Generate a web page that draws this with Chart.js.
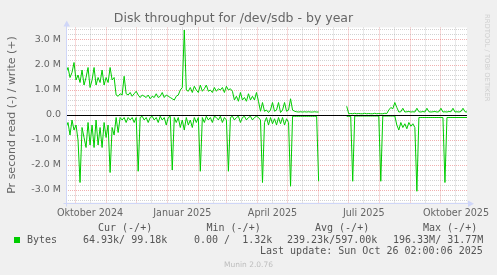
<!DOCTYPE html>
<html><head><meta charset="utf-8">
<script src="https://cdn.jsdelivr.net/npm/chart.js@4"></script>
<style>
html,body{margin:0;padding:0;background:#f0f0f0;}
#wrap{position:relative;width:497px;height:275px;overflow:hidden;background:#f0f0f0;}
canvas{position:absolute;left:0;top:0;}
.t{position:absolute;white-space:pre;font-family:"DejaVu Sans Mono",monospace;font-size:10px;line-height:12px;color:#555;}
#sq{position:absolute;left:14px;top:236.5px;width:6px;height:6px;background:#00cc00;}
#munin{position:absolute;left:0;width:497px;top:260px;text-align:center;font-family:"DejaVu Sans",sans-serif;font-size:7.5px;line-height:9px;color:#bdbdbd;}
#wm{position:absolute;left:482.5px;top:14px;writing-mode:vertical-rl;font-family:"DejaVu Sans",sans-serif;font-size:6.8px;line-height:7px;color:#cfcfcf;white-space:pre;}
</style></head><body>
<div id="wrap">
<canvas id="c" width="497" height="275"></canvas>
<div id="wm">RRDTOOL / TOBI OETIKER</div>
<div id="legend"></div>
<div id="munin">Munin 2.0.76</div>
</div>
<script>
// ---- data (values in M bytes/s, one value every 2 days from 22 Sep 2024) ----
const startUTC = Date.UTC(2024, 8, 22);
const stepDays = 2;
const writeMB = [
 1.7,1.9,1.5,1.7,2.1,1.4,1.6,1.3,1.8,1.2,
 1.5,1.9,1.1,1.4,1.9,1.2,1.5,1.3,1.8,1.2,
 1.5,1.3,1.9,1.4,1.5,
 0.8,0.75,0.85,0.8,1.55,0.85,0.8,0.9,0.75,0.85,
 0.95,0.8,0.7,0.8,0.75,0.7,0.8,0.65,0.75,0.7,
 0.85,0.7,0.75,0.9,0.7,
 0.8,0.75,0.7,0.65,0.6,0.75,0.8,1.0,1.1,3.4,
 1.0,0.95,1.1,0.9,1.15,1.0,0.9,1.2,0.95,1.05,
 1.2,0.95,1.0,0.9,1.1,
 0.95,1.05,1.0,1.1,0.9,1.15,1.0,1.05,0.95,0.6,
 0.75,0.55,0.9,0.6,0.7,0.55,0.85,0.6,0.75,0.6,
 0.9,0.55,0.15,0.5,0.15,
 0.2,0.1,0.2,0.5,0.15,0.2,0.5,0.1,0.2,0.5,
 0.15,0.2,0.65,0.2,0.15,0.13,0.12,0.13,0.12,0.13,
 0.12,0.13,0.12,0.12,0.13,0.12,0.12,
 null,null,null,null,null,null,null,null,null,null,null,null,null,
 0.35,
 0.05,0.06,0.05,0.07,0.05,0.06,0.05,0.05,0.07,0.05,
 0.06,0.05,0.05,0.07,0.05,0.06,0.05,0.05,0.07,0.06,
 0.2,0.3,0.25,0.5,0.3,0.12,
 0.13,0.27,0.12,0.13,0.14,0.12,0.13,0.12,0.27,0.13,
 0.12,0.14,0.12,0.27,0.13,0.12,0.13,0.14,0.12,0.13,
 0.27,0.12,0.13,0.12,0.14,0.13,0.27,0.12,0.13,0.12,
 0.14,0.27,0.13,0.12
];
const readMB = [
 0.5,0.3,0.8,0.2,0.6,0.4,1.0,2.7,0.5,0.9,
 1.3,0.3,1.2,0.4,1.3,0.2,1.2,0.5,1.3,0.3,
 0.9,0.4,2.3,0.5,0.8,
 0.1,0.7,0.1,0.2,0.1,0.3,0.1,0.2,0.1,0.3,
 0.1,2.25,0.1,0.05,0.2,0.1,0.3,0.1,0.05,0.2,
 0.1,0.3,0.05,0.2,0.1,
 0.4,0.1,0.05,2.2,0.1,0.3,0.1,0.5,0.2,0.6,
 0.1,0.4,0.2,0.5,0.1,0.3,0.1,2.25,0.1,0.3,
 0.05,0.2,0.1,0.3,0.05,
 0.1,0.2,0.05,0.3,0.1,0.2,2.25,0.1,0.05,0.2,
 0.1,0.05,0.3,0.1,0.05,0.2,0.1,0.05,0.2,0.1,
 0.05,0.1,0.2,2.7,0.3,
 0.1,0.4,0.1,0.35,0.15,0.4,0.1,0.35,0.1,0.4,
 0.15,0.3,2.85,0.05,0.05,0.05,0.05,0.05,0.05,0.05,
 0.05,0.05,0.05,0.05,0.05,0.05,2.65,
 null,null,null,null,null,null,null,null,null,null,null,null,null,
 0.05,0.05,0.05,2.65,
 0.04,0.04,0.04,0.04,0.04,0.04,0.04,0.04,0.04,0.04,0.04,0.04,0.04,
 2.65,
 0.04,0.04,0.04,0.04,0.04,0.04,0.04,
 0.4,0.6,0.3,0.5,0.35,0.55,0.3,0.45,0.35,0.5,
 3.05,
 0.1,0.1,0.1,0.1,0.1,0.1,0.1,0.1,0.1,0.1,0.1,0.1,0.1,
 2.7,
 0.1,0.1,0.1,0.1,0.1,0.1,0.1,0.1,0.1,0.1,0.1
];
// ---- axes / ticks ----
const xRangeDays = 400;
const gridMonths = [[2024,9],[2024,10],[2024,11],[2025,0],[2025,1],[2025,2],[2025,3],[2025,4],[2025,5],[2025,6],[2025,7],[2025,8],[2025,9]];
const labelMonths = [[2024,9],[2025,0],[2025,3],[2025,6],[2025,9]];
const xTickLabels = ['Oktober 2024','Januar 2025','April 2025','Juli 2025','Oktober 2025'];
const yMin = -3.5, yMax = 3.5, yMinorStep = 0.2;
const yMajorTicks = [-3,-2,-1,0,1,2,3];
const yTickLabels = ['-3.0 M','-2.0 M','-1.0 M','0.0','1.0 M','2.0 M','3.0 M'];
// ---- legend text ----
const legendHead = ['Cur (-/+)','Min (-/+)','Avg (-/+)','Max (-/+)'];
const legendVals = ['64.93k/ 99.18k','0.00 /  1.32k','239.23k/597.00k','196.33M/ 31.77M'];
const seriesName = 'Bytes';
const lastUpdate = 'Last update: Sun Oct 26 02:00:06 2025';

const dayOf = (y,m,d) => (Date.UTC(y,m,d) - startUTC) / 86400000;
const xMonthStarts = gridMonths.map(([y,m]) => dayOf(y,m,1));
const xMidMonths = gridMonths.map(([y,m]) => dayOf(y,m,16));
const xLabelDays = labelMonths.map(([y,m]) => dayOf(y,m,16));

// legend html
(function(){
  const L = document.getElementById('legend');
  const add = (txt, left, top) => { const d = document.createElement('div'); d.className='t'; d.textContent = txt; d.style.left = left+'px'; d.style.top = top+'px'; L.appendChild(d); };
  const headX = [98, 206.5, 315, 423];
  legendHead.forEach((t,i)=>add(t, headX[i], 222));
  const sq = document.createElement('div'); sq.id='sq'; L.appendChild(sq);
  add(seriesName, 27, 233.5);
  const valX = [83, 194, 287, 393];
  legendVals.forEach((t,i)=>add(t, valX[i], 233.5));
  add(lastUpdate, 260, 245);
})();

Chart.defaults.font.family = "'DejaVu Sans', sans-serif";
Chart.defaults.color = '#666';

const isMajorY = v => Math.abs(v - Math.round(v)) < 1e-6;
const MAJ = 'rgba(222,79,79,0.45)';
const MIN = 'rgba(143,143,143,0.4)';

const decor = {
  id: 'decor',
  beforeDraw(chart){
    const {ctx, chartArea:a} = chart;
    ctx.save(); ctx.fillStyle = '#ffffff';
    ctx.fillRect(a.left, a.top, a.right - a.left, a.bottom - a.top);
    ctx.restore();
  },
  afterDatasetsDraw(chart){
    const {ctx, chartArea:a, scales} = chart;
    const y0 = Math.round(scales.y.getPixelForValue(0)) + 0.5;
    ctx.save();
    ctx.strokeStyle = '#000'; ctx.lineWidth = 1;
    ctx.beginPath(); ctx.moveTo(a.left, y0); ctx.lineTo(a.right, y0); ctx.stroke();
    ctx.restore();
  },
  afterDraw(chart){
    const {ctx, chartArea:a} = chart;
    const ax = Math.round(a.left) + 0.5, ay = Math.round(a.bottom) + 0.5;
    ctx.save();
    ctx.strokeStyle = '#cfd6f8'; ctx.fillStyle = '#cfd6f8'; ctx.lineWidth = 1;
    ctx.beginPath(); ctx.moveTo(ax, ay + 3); ctx.lineTo(ax, a.top - 3); ctx.stroke();
    ctx.beginPath(); ctx.moveTo(ax - 3, a.top - 1); ctx.lineTo(ax + 3.5, a.top - 1); ctx.lineTo(ax + 0.25, a.top - 7); ctx.closePath(); ctx.fill();
    ctx.beginPath(); ctx.moveTo(ax - 3, ay); ctx.lineTo(a.right + 1, ay); ctx.stroke();
    ctx.beginPath(); ctx.moveTo(a.right + 1, ay - 3); ctx.lineTo(a.right + 1, ay + 3.5); ctx.lineTo(a.right + 7, ay + 0.25); ctx.closePath(); ctx.fill();
    ctx.restore();
  }
};

new Chart(document.getElementById('c'), {
  type: 'line',
  data: {
    datasets: [
      { label: 'write', data: writeMB.map((v,i)=>({x:i*stepDays, y:v})), borderColor:'#00cc00', borderWidth:1, pointRadius:0, fill:false, tension:0, spanGaps:false },
      { label: 'read', data: readMB.map((v,i)=>({x:i*stepDays, y: v===null ? null : -v})), borderColor:'#00cc00', borderWidth:1, pointRadius:0, fill:false, tension:0, spanGaps:false }
    ]
  },
  options: {
    responsive: false, animation: false, devicePixelRatio: 1,
    layout: { padding: { left: 0, right: 30, top: 0, bottom: 0 } },
    plugins: {
      legend: { display: false }, tooltip: { enabled: false },
      title: { display: true, text: 'Disk throughput for /dev/sdb - by year', color:'#666', font:{ size: 12.5, weight: 'normal' }, padding: { top: 11.5, bottom: 1 } }
    },
    scales: {
      x: {
        type: 'linear', min: 0, max: xRangeDays,
        afterBuildTicks(s){ s.ticks = xMonthStarts.concat(xMidMonths).filter(v=>v>=0 && v<=xRangeDays).sort((a,b)=>a-b).map(v=>({value:v})); },
        afterFit(s){ s.height = 72.5; },
        ticks: { autoSkip:false, maxRotation:0, minRotation:0, padding:5, color:'#666', font:{size:9.6},
          callback(v){ const k = xLabelDays.indexOf(v); return k >= 0 ? xTickLabels[k] : ''; } },
        grid: { drawTicks:false, lineWidth:1, color(c){ return xMonthStarts.includes(c.tick && c.tick.value) ? MAJ : MIN; } },
        border: { display:false, dash:[1,1] }
      },
      y: {
        type: 'linear', min: yMin, max: yMax,
        afterBuildTicks(s){ const t=[]; for (let v=yMin+0.1; v<yMax; v+=yMinorStep) t.push({value: Math.round(v*10)/10}); s.ticks = t; },
        afterFit(s){ s.width = 66; },
        ticks: { autoSkip:false, padding:5, color:'#666', font:{size:9.5},
          callback(v){ const k = yMajorTicks.findIndex(m=>Math.abs(m-v)<1e-6); return k >= 0 ? yTickLabels[k] : ''; } },
        grid: { drawTicks:false, lineWidth:1, color(c){ return (c.tick && isMajorY(c.tick.value)) ? MAJ : MIN; } },
        border: { display:false, dash:[1,1] },
        title: { display:true, text:'Pr second read (-) / write (+)', color:'#666', font:{size:11}, padding:{top:6, bottom:0} }
      }
    }
  },
  plugins: [decor]
});
</script>
</body></html>
